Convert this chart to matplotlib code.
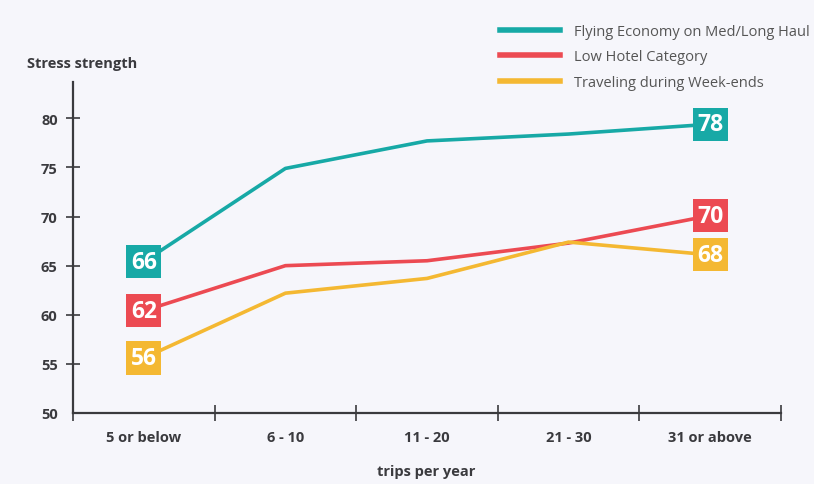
import matplotlib.pyplot as plt
from matplotlib.lines import Line2D

# данные
categories = ["5 or below", "6 - 10", "11 - 20", "21 - 30", "31 or above"]
flying = [65.4, 74.9, 77.7, 78.4, 79.4]
hotel = [60.4, 65.0, 65.5, 67.3, 70.1]
weekend = [55.6, 62.2, 63.7, 67.4, 66.1]
flying_lbl = ["66", "78"]
hotel_lbl = ["62", "70"]
weekend_lbl = ["56", "68"]
series_names = ["Flying Economy on Med/Long Haul", "Low Hotel Category", "Traveling during Week-ends"]
yticks = [50, 55, 60, 65, 70, 75, 80]

teal = "#17a9a6"
red = "#ec4a52"
yellow = "#f4b832"
bg = "#f6f6fb"
dark = "#3a3a3e"

lab_font = ["Open Sans", "DejaVu Sans"]

fig = plt.figure(figsize=(8.14, 4.85), dpi=100, facecolor=bg)
ax = fig.add_axes([0.0897, 0.1464, 0.8698, 0.6825], facecolor=bg)

x = list(range(len(categories)))
series = [(flying, flying_lbl, teal), (hotel, hotel_lbl, red), (weekend, weekend_lbl, yellow)]
for vals, lbls, col in series:
    ax.plot(x, vals, color=col, lw=2.6, solid_capstyle="butt", zorder=2)
    for xi, yi, t in [(x[0], vals[0], lbls[0]), (x[-1], vals[-1], lbls[1])]:
        ax.text(xi, yi, t, ha="center", va="center", color="white", fontsize=16.5,
                fontweight="bold", family=lab_font, zorder=3,
                bbox=dict(boxstyle="square,pad=0.2", fc=col, ec="none"))

ax.set_xlim(-0.5, 4.5)
ax.set_ylim(50, 83.7)

for s in ["top", "right"]:
    ax.spines[s].set_visible(False)
for s in ["left", "bottom"]:
    ax.spines[s].set_color(dark)
    ax.spines[s].set_linewidth(1.6)

ax.set_yticks(yticks)
ax.set_yticklabels([str(v) for v in yticks], fontsize=10.5, fontweight="bold",
                   color=dark, family=lab_font)
ax.tick_params(axis="y", direction="inout", length=10, width=1.2, color=dark, pad=6)
ax.yaxis.get_major_ticks()[0].tick1line.set_visible(False)

ax.set_xticks(x)
ax.set_xticklabels(categories, fontsize=10.5, fontweight="bold", color=dark, family=lab_font)
ax.tick_params(axis="x", which="major", length=0, pad=12)
ax.set_xticks([v - 0.5 for v in x] + [4.5], minor=True)
ax.tick_params(axis="x", which="minor", direction="inout", length=12, width=1.2, color=dark)

fig.text(0.033, 0.868, "Stress strength", fontsize=10.5, fontweight="bold", color=dark,
         family=lab_font, va="center")
fig.text(0.523, 0.027, "trips per year", fontsize=10.5, fontweight="bold", color=dark,
         family=lab_font, ha="center", va="center")

handles = [Line2D([], [], color=c, lw=4) for c in [teal, red, yellow]]
leg = fig.legend(handles, series_names, loc="upper left", bbox_to_anchor=(0.607, 0.961),
                 frameon=False, fontsize=10.5, handlelength=4.1, handletextpad=0.95,
                 labelspacing=0.73, borderaxespad=0)
for t in leg.get_texts():
    t.set_color("#555555")
    t.set_family(["Open Sans", "DejaVu Sans"])

fig.savefig("out.png", dpi=100, facecolor=bg)
